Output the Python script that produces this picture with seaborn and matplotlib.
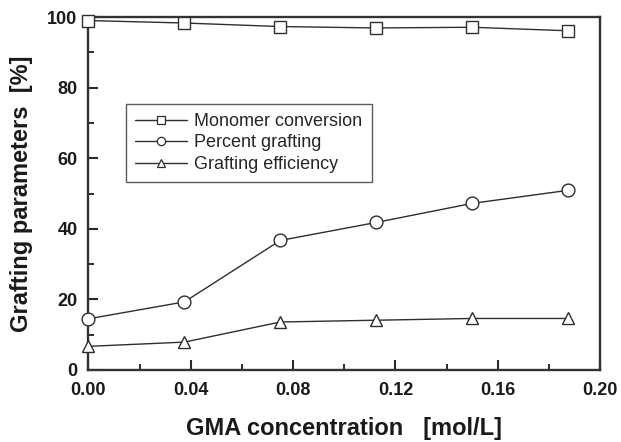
import matplotlib
matplotlib.use("Agg")
import matplotlib.pyplot as plt
from matplotlib.ticker import MultipleLocator, FormatStrFormatter
from matplotlib.lines import Line2D
import seaborn as sns
import pandas as pd

# GMA concentration (mol/L)
gma_conc = [0.0, 0.0375, 0.075, 0.1125, 0.15, 0.1875]
# Grafting parameters (%)
monomer_conversion = [99.0, 98.3, 97.3, 96.9, 97.1, 96.1]
percent_grafting = [14.5, 19.3, 36.7, 41.8, 47.2, 50.9]
grafting_efficiency = [6.7, 7.9, 13.6, 14.1, 14.6, 14.6]

series_names = ["Monomer conversion", "Percent grafting", "Grafting efficiency"]
series_values = [monomer_conversion, percent_grafting, grafting_efficiency]
series_markers = ["s", "o", "^"]
series_msize = [8.4, 9.2, 9.2]
legend_msize = [5.6, 6.0, 6.2]

sns.set_theme(style="white")
plt.rcParams["font.family"] = ["Liberation Sans", "DejaVu Sans"]

fig = plt.figure(figsize=(6.21, 4.42), dpi=100)
ax = fig.add_axes([0.1425, 0.1629, 0.8237, 0.7986])

line_color = "#2e2e2e"
handles = []
for name, vals, mk, ms, lms in zip(series_names, series_values, series_markers,
                                   series_msize, legend_msize):
    df = pd.DataFrame({"x": gma_conc, "y": vals})
    sns.lineplot(data=df, x="x", y="y", ax=ax, color=line_color, lw=1.0,
                 marker=mk, markersize=ms, markerfacecolor="white",
                 markeredgecolor=line_color, markeredgewidth=1.0,
                 clip_on=False, zorder=3)
    handles.append(Line2D([], [], color=line_color, lw=1.0, marker=mk,
                          markersize=lms, markerfacecolor="white",
                          markeredgecolor=line_color, markeredgewidth=0.9,
                          label=name))

ax.set_xlim(0, 0.20)
ax.set_ylim(0, 100)
ax.xaxis.set_major_locator(MultipleLocator(0.04))
ax.xaxis.set_minor_locator(MultipleLocator(0.02))
ax.yaxis.set_major_locator(MultipleLocator(20))
ax.yaxis.set_minor_locator(MultipleLocator(10))
ax.xaxis.set_major_formatter(FormatStrFormatter("%.2f"))

ax.tick_params(axis="both", which="major", direction="in", length=7.2, width=1.5,
               colors="#2a2a2a", labelsize=13, bottom=True, left=True,
               top=False, right=False)
ax.tick_params(axis="x", which="major", pad=8.5)
ax.tick_params(axis="y", which="major", pad=8)
ax.tick_params(axis="both", which="minor", direction="in", length=4.3, width=1.4,
               colors="#2a2a2a", bottom=True, left=True, top=False, right=False)
for lab in ax.get_xticklabels() + ax.get_yticklabels():
    lab.set_fontweight("bold")
    lab.set_color("#1a1a1a")

for sp in ax.spines.values():
    sp.set_visible(True)
    sp.set_linewidth(1.7)
    sp.set_color("#333333")

ax.set_xlabel("GMA concentration   [mol/L]", fontsize=17, fontweight="bold",
              color="#1a1a1a")
ax.set_ylabel("Grafting parameters  [%]", fontsize=17, fontweight="bold",
              color="#1a1a1a")
ax.xaxis.set_label_coords(0.5, -0.167)
ax.xaxis.label.set_va("center")
ax.yaxis.set_label_coords(-0.130, 0.5)
ax.yaxis.label.set_va("center")

leg = ax.legend(handles=handles, loc="upper left", bbox_to_anchor=(0.073, 0.754),
                fontsize=13, frameon=True, fancybox=False, handlelength=2.9,
                handletextpad=0.4, borderpad=0.5, labelspacing=0.25,
                edgecolor="#333333", borderaxespad=0)
leg.get_frame().set_linewidth(1.0)

fig.savefig("out.png", dpi=100, facecolor="white")
